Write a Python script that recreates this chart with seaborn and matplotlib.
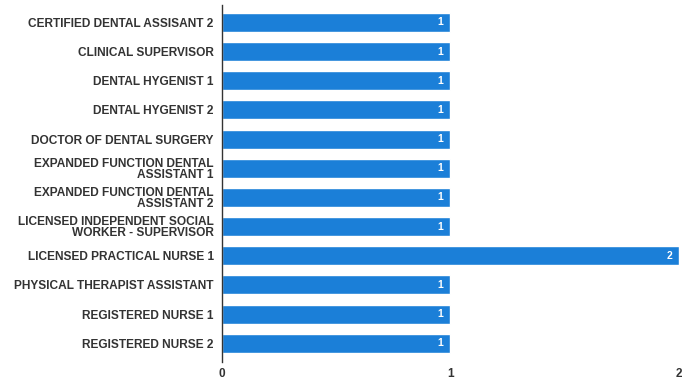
import matplotlib
matplotlib.use("Agg")
import matplotlib.pyplot as plt
import seaborn as sns
import pandas as pd

categories = [
    "CERTIFIED DENTAL ASSISANT 2",
    "CLINICAL SUPERVISOR",
    "DENTAL HYGENIST 1",
    "DENTAL HYGENIST 2",
    "DOCTOR OF DENTAL SURGERY",
    "EXPANDED FUNCTION DENTAL\nASSISTANT 1",
    "EXPANDED FUNCTION DENTAL\nASSISTANT 2",
    "LICENSED INDEPENDENT SOCIAL\nWORKER - SUPERVISOR",
    "LICENSED PRACTICAL NURSE 1",
    "PHYSICAL THERAPIST ASSISTANT",
    "REGISTERED NURSE 1",
    "REGISTERED NURSE 2",
]
values = [1, 1, 1, 1, 1, 1, 1, 1, 2, 1, 1, 1]
xticks = [0, 1, 2]

sns.set_theme(style="white")
plt.rcParams['font.family'] = ['Liberation Sans', 'DejaVu Sans']

df = pd.DataFrame({"cat": categories, "val": values})

fig = plt.figure(figsize=(6.94, 3.80), dpi=100)
ax = fig.add_axes([0.32, 0.047, 0.658, 0.94])
sns.barplot(data=df, x="val", y="cat", orient="h", color="#1B7FD8",
            saturation=1, width=0.65, ax=ax)

for p, v in zip(ax.patches, values):
    ax.text(p.get_width() - 0.03, p.get_y() + p.get_height() / 2, str(v),
            color="white", ha="right", va="center", fontsize=7.5, fontweight="bold")

ax.set_xlim(0, 2)
ax.set_ylim(11.65, -0.6)
ax.set_xticks(xticks)
ax.set_xticklabels([str(t) for t in xticks], fontsize=8.5, fontweight="bold", color="#333333")
ax.tick_params(axis="y", labelsize=8.6, labelcolor="#333333", length=0, pad=6)
ax.tick_params(axis="x", length=0, pad=4)
for lbl in ax.get_yticklabels():
    lbl.set_fontweight("bold")
    lbl.set_multialignment("right")
    lbl.set_linespacing(0.9)
ax.set_xlabel("")
ax.set_ylabel("")
for s in ["top", "right", "bottom"]:
    ax.spines[s].set_visible(False)
ax.spines["left"].set_color("#333333")
ax.spines["left"].set_linewidth(1.0)
ax.grid(False)

fig.savefig("out.png", dpi=100)
